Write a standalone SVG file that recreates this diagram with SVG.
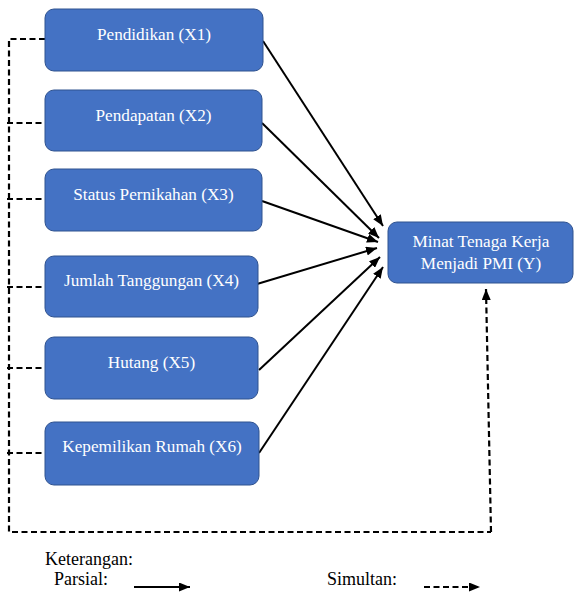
<svg xmlns="http://www.w3.org/2000/svg" width="574" height="593" viewBox="0 0 574 593">
<style>
.box{fill:#4472C4;stroke:#2F528F;stroke-width:1}
.lbl{fill:#ffffff;font-family:'Liberation Serif','Times New Roman',serif;font-size:17.2px;text-anchor:middle}
.leg{fill:#000;font-family:'Liberation Serif','Times New Roman',serif;font-size:18px}
.solid{stroke:#000;stroke-width:2;fill:none}
.dash{stroke:#000;stroke-width:2.2;fill:none;stroke-dasharray:6 3.5}
</style>
<defs>
<marker id="ah" markerUnits="userSpaceOnUse" markerWidth="11" markerHeight="9" refX="11" refY="4.5" orient="auto">
<path d="M0,0 L11,4.5 L0,9 z" fill="#000"/>
</marker>
</defs>
<g id="connectors">
<line class="solid" x1="263" y1="41" x2="383" y2="226" marker-end="url(#ah)"/>
<line class="solid" x1="262" y1="123" x2="379" y2="238" marker-end="url(#ah)"/>
<line class="solid" x1="262" y1="201" x2="378" y2="242" marker-end="url(#ah)"/>
<line class="solid" x1="257" y1="284" x2="377" y2="248" marker-end="url(#ah)"/>
<line class="solid" x1="259" y1="370" x2="380" y2="257" marker-end="url(#ah)"/>
<line class="solid" x1="259" y1="453" x2="383" y2="267" marker-end="url(#ah)"/>
<polyline class="dash" points="45,39 9,39 9,532 491,532"/>
<line class="dash" x1="7" y1="123" x2="45" y2="123"/>
<line class="dash" x1="7" y1="199" x2="45" y2="199"/>
<line class="dash" x1="7" y1="287" x2="45" y2="287"/>
<line class="dash" x1="7" y1="368" x2="45" y2="368"/>
<line class="dash" x1="7" y1="453" x2="45" y2="453"/>
<line class="dash" x1="491" y1="532" x2="486" y2="289" marker-end="url(#ah)"/>
</g>
<g id="x1"><rect class="box" x="45" y="9" width="218" height="62" rx="9"/><text class="lbl" x="154" y="40">Pendidikan (X1)</text></g>
<g id="x2"><rect class="box" x="45" y="90" width="217" height="61" rx="9"/><text class="lbl" x="153.5" y="121">Pendapatan (X2)</text></g>
<g id="x3"><rect class="box" x="45" y="169" width="217" height="62" rx="9"/><text class="lbl" x="153.5" y="200">Status Pernikahan (X3)</text></g>
<g id="x4"><rect class="box" x="45" y="256" width="213" height="61" rx="9"/><text class="lbl" x="151.5" y="286">Jumlah Tanggungan (X4)</text></g>
<g id="x5"><rect class="box" x="45" y="337" width="213" height="62" rx="9"/><text class="lbl" x="151.5" y="368">Hutang (X5)</text></g>
<g id="x6"><rect class="box" x="45" y="422" width="214" height="63" rx="9"/><text class="lbl" x="152" y="452">Kepemilikan Rumah (X6)</text></g>
<g id="y"><rect class="box" x="388" y="222" width="185" height="61" rx="9"/><text class="lbl" x="481" y="246.5">Minat Tenaga Kerja</text><text class="lbl" x="481" y="269">Menjadi PMI (Y)</text></g>
<g id="legend">
<text class="leg" x="45" y="565">Keterangan:</text>
<text class="leg" x="54" y="585">Parsial:</text>
<line class="solid" x1="134" y1="587" x2="190" y2="587" marker-end="url(#ah)"/>
<text class="leg" x="327" y="585">Simultan:</text>
<line class="dash" x1="424" y1="587" x2="480" y2="587" marker-end="url(#ah)"/>
</g>
</svg>
